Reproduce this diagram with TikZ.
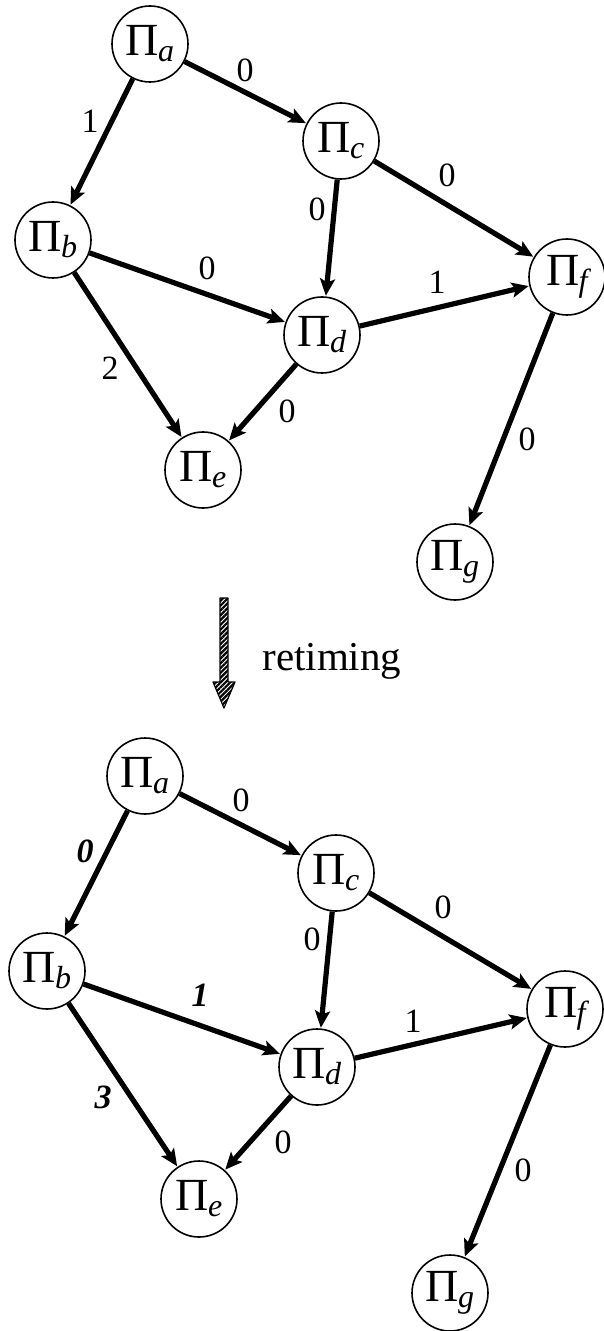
\documentclass[tikz,border=0pt]{standalone}
\usepackage{fontspec}
\setmainfont{Liberation Serif}
\usetikzlibrary{arrows.meta,patterns.meta}

% process label: Greek capital Pi with an italic index
\newcommand{\proclabel}[1]{Π\kern-0.5pt\raisebox{-0.28ex}{\fontsize{16}{16}\selectfont\itshape #1}}

\begin{document}
\begin{tikzpicture}[x=0.5pt,y=-0.5pt,>={Stealth[length=8.5pt,width=7.5pt,inset=1.8pt]},
    line join=round,
    proc/.style={circle,draw,line width=0.8pt,inner sep=0pt,minimum size=38pt,
      font=\fontsize{23}{23}\selectfont},
    wire/.style={->,line width=2.6pt,shorten >=0.3pt},
    wlab/.style={inner sep=0pt,font=\fontsize{17}{17}\selectfont},
    wnew/.style={wlab,font=\fontsize{17}{17}\selectfont\bfseries\itshape}]
  \useasboundingbox (0,0) rectangle (604,1331);

  % ---- original graph ----------------------------------------------------
  \node[proc] (Pa) at (150,  44) {\proclabel{a}};
  \node[proc] (Pb) at ( 53, 240) {\proclabel{b}};
  \node[proc] (Pc) at (341, 141) {\proclabel{c}};
  \node[proc] (Pd) at (322, 335) {\proclabel{d}};
  \node[proc] (Pe) at (203, 470) {\proclabel{e}};
  \node[proc] (Pf) at (567, 277) {\proclabel{f}};
  \node[proc] (Pg) at (455, 562) {\proclabel{g}};

  \draw[wire] (Pa) -- (Pb);
  \draw[wire] (Pa) -- (Pc);
  \draw[wire] (Pc) -- (Pd);
  \draw[wire] (Pc) -- (Pf);
  \draw[wire] (Pb) -- (Pd);
  \draw[wire] (Pb) -- (Pe);
  \draw[wire] (Pd) -- (Pe);
  \draw[wire] (Pd) -- (Pf);
  \draw[wire] (Pf) -- (Pg);

  % register counts
  \node[wlab] (Lab) at ( 90, 121) {1};
  \node[wlab] (Lac) at (245,  70) {0};
  \node[wlab] (Lcf) at (447, 175) {0};
  \node[wlab] (Lcd) at (317, 209) {0};
  \node[wlab] (Lbd) at (207, 268) {0};
  \node[wlab] (Ldf) at (437, 282) {1};
  \node[wlab] (Lbe) at (110, 368) {2};
  \node[wlab] (Lde) at (287, 411) {0};
  \node[wlab] (Lfg) at (527, 439) {0};

  % ---- hatched transition arrow ------------------------------------------
  \path[pattern={Lines[angle=45,distance=1.7pt,line width=1.1pt]},draw,line width=0.6pt]
    (220,598) -- (228,598) -- (228,682) -- (235,682) -- (224,708)
    -- (213,682) -- (220,682) -- cycle;
  \node[anchor=base west,inner sep=0pt,font=\fontsize{20.5}{20.5}\selectfont]
    (retime) at (262,670) {retiming};

  % ---- retimed graph -----------------------------------------------------
  \node[proc] (Qa) at (145, 776) {\proclabel{a}};
  \node[proc] (Qb) at ( 47, 971) {\proclabel{b}};
  \node[proc] (Qc) at (336, 873) {\proclabel{c}};
  \node[proc] (Qd) at (317,1067) {\proclabel{d}};
  \node[proc] (Qe) at (199,1199) {\proclabel{e}};
  \node[proc] (Qf) at (565,1009) {\proclabel{f}};
  \node[proc] (Qg) at (450,1293) {\proclabel{g}};

  \draw[wire] (Qa) -- (Qb);
  \draw[wire] (Qa) -- (Qc);
  \draw[wire] (Qc) -- (Qd);
  \draw[wire] (Qc) -- (Qf);
  \draw[wire] (Qb) -- (Qd);
  \draw[wire] (Qb) -- (Qe);
  \draw[wire] (Qd) -- (Qe);
  \draw[wire] (Qd) -- (Qf);
  \draw[wire] (Qf) -- (Qg);

  % changed counts in bold italic
  \node[wnew] (Mab) at ( 85, 851) {0};
  \node[wlab] (Mac) at (241, 800) {0};
  \node[wlab] (Mcf) at (443, 907) {0};
  \node[wlab] (Mcd) at (312, 939) {0};
  \node[wnew] (Mbd) at (200, 995) {1};
  \node[wlab] (Mdf) at (413,1021) {1};
  \node[wnew] (Mbe) at (103,1097) {3};
  \node[wlab] (Mde) at (283,1142) {0};
  \node[wlab] (Mfg) at (523,1170) {0};
\end{tikzpicture}
\end{document}
